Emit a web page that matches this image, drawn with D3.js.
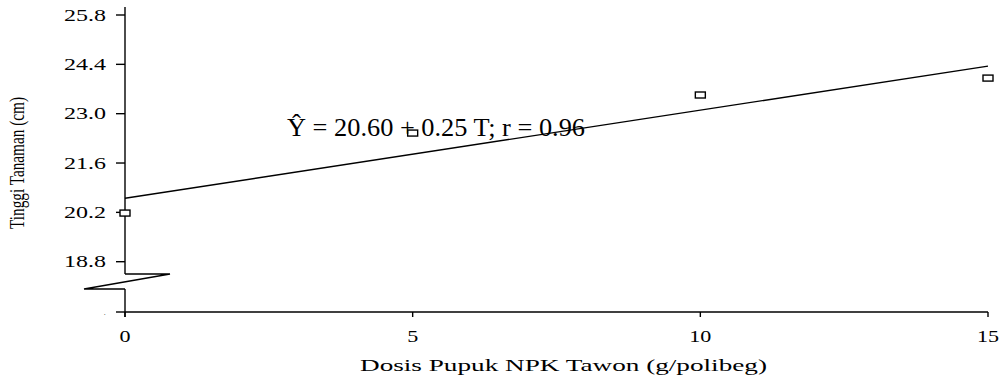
<!DOCTYPE html>
<html>
<head>
<meta charset="utf-8">
<script src="https://cdn.jsdelivr.net/npm/d3@7"></script>
<style>
  body { margin: 0; background: #fff; }
  svg { display: block; }
  text { font-family: "Liberation Serif", "Times New Roman", serif; fill: #000; }
</style>
</head>
<body>
<svg id="chart" width="1003" height="379"></svg>
<script>
'use strict';

// data
var doses = [0, 5, 10, 15];
var heights = [20.18, 22.45, 23.53, 24.01];
var yTicks = [18.8, 20.2, 21.6, 23.0, 24.4, 25.8];
var xTicks = [0, 5, 10, 15];
var intercept = 20.60;
var slope = 0.25;
var equationText = 'Ŷ = 20.60 + 0.25 T; r = 0.96';
var xTitle = 'Dosis Pupuk NPK Tawon (g/polibeg)';
var yTitle = 'Tinggi Tanaman (cm)';

var svg = d3.select('#chart');

var x = d3.scaleLinear().domain([0, 15]).range([125, 988]);
var y = d3.scaleLinear().domain([18.8, 25.8]).range([261.7, 15]);

var x0 = x(0);
var axisY = 312;      // bottom of the broken axis
var breakTop = 274;
var breakBottom = 289;

var g = svg.append('g')
    .attr('stroke', '#000')
    .attr('fill', 'none')
    .attr('stroke-width', 1.4);

// y axis, upper part
g.append('line').attr('x1', x0).attr('x2', x0).attr('y1', 7).attr('y2', breakTop);
// break zigzag
g.append('path')
    .attr('d', 'M' + x0 + ',' + breakTop + 'L170,' + breakTop + 'L84,' + breakBottom + 'L' + x0 + ',' + breakBottom);
// y axis, lower part
g.append('line').attr('x1', x0).attr('x2', x0).attr('y1', breakBottom).attr('y2', 317);

// y ticks
g.selectAll('line.ytick')
    .data(yTicks)
    .enter()
    .append('line')
    .attr('class', 'ytick')
    .attr('x1', x0 - 9).attr('x2', x0)
    .attr('y1', function (d) { return y(d); })
    .attr('y2', function (d) { return y(d); });
g.append('line').attr('x1', x0 - 9).attr('x2', x0).attr('y1', axisY).attr('y2', axisY);

// the original labels are drawn wide, so stretch them sideways
svg.selectAll('text.ylab')
    .data(yTicks)
    .enter()
    .append('text')
    .attr('class', 'ylab')
    .attr('transform', function (d) { return 'translate(106,' + (y(d) + 5.5) + ') scale(1.5,1)'; })
    .attr('text-anchor', 'end')
    .attr('font-size', 16)
    .text(function (d) { return d.toFixed(1); });
svg.append('text').attr('x', 104).attr('y', 315).attr('font-size', 6).text('.');

// x axis
g.append('line').attr('x1', x0).attr('x2', x(15)).attr('y1', axisY).attr('y2', axisY);
g.selectAll('line.xtick')
    .data(xTicks)
    .enter()
    .append('line')
    .attr('class', 'xtick')
    .attr('x1', function (d) { return x(d); })
    .attr('x2', function (d) { return x(d); })
    .attr('y1', axisY).attr('y2', axisY + 5);

svg.selectAll('text.xlab')
    .data(xTicks)
    .enter()
    .append('text')
    .attr('class', 'xlab')
    .attr('transform', function (d) { return 'translate(' + x(d) + ',342) scale(1.3,1)'; })
    .attr('text-anchor', 'middle')
    .attr('font-size', 17)
    .text(function (d) { return d; });

// titles
svg.append('text')
    .attr('x', 360)
    .attr('y', 371)
    .attr('font-size', 16)
    .attr('textLength', 407)
    .attr('lengthAdjust', 'spacingAndGlyphs')
    .text(xTitle);

svg.append('text')
    .attr('transform', 'translate(24,163) rotate(-90)')
    .attr('x', -66)
    .attr('font-size', 20)
    .attr('textLength', 132)
    .attr('lengthAdjust', 'spacingAndGlyphs')
    .text(yTitle);

// regression line
g.append('line')
    .attr('x1', x(0)).attr('y1', y(intercept))
    .attr('x2', x(15)).attr('y2', y(intercept + slope * 15));

// equation
svg.append('text')
    .attr('x', 287)
    .attr('y', 136)
    .attr('font-size', 25)
    .attr('textLength', 298)
    .attr('lengthAdjust', 'spacingAndGlyphs')
    .text(equationText);

// observed points
g.selectAll('rect.pt')
    .data(doses)
    .enter()
    .append('rect')
    .attr('class', 'pt')
    .attr('fill', '#fff')
    .attr('x', function (d) { return x(d) - 5; })
    .attr('y', function (d, i) { return y(heights[i]) - 3; })
    .attr('width', 10)
    .attr('height', 6);
</script>
</body>
</html>
